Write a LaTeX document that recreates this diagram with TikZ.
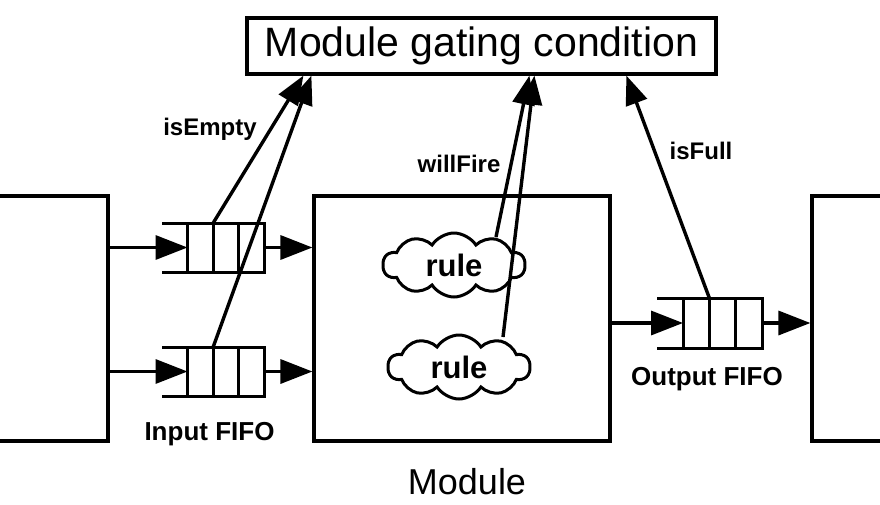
\documentclass[tikz,border=0pt]{standalone}
\usepackage{fontspec}
\setmainfont{Liberation Sans}
\usetikzlibrary{arrows.meta,shapes.symbols,calc}
\begin{document}
\begin{tikzpicture}[x=1pt,y=-1pt,
  box/.style={draw, line width=3.2pt, inner sep=0pt},
  fifo/.style={draw, line width=3pt, minimum width=77pt, minimum height=49pt, inner sep=0pt, outer sep=0pt},
  fifoline/.style={line width=3pt},
  arr/.style={line width=3.4pt, -{Triangle[length=32pt,width=24pt]}},
  sig/.style={line width=3.4pt, -{Triangle[length=29pt,width=22pt]}},
  lbl/.style={anchor=base, font=\bfseries\fontsize{24}{28}\selectfont},
  biglbl/.style={anchor=base, font=\bfseries\fontsize{26}{28}\selectfont},
  rulecloud/.style={cloud, draw, line width=3pt, cloud puffs=10, cloud puff arc=115, aspect=2.2, minimum width=142pt, minimum height=64pt, inner sep=0pt, font=\bfseries\fontsize{31}{32}\selectfont}
]
\useasboundingbox (0,0) rectangle (880,504);
\clip (0,0) rectangle (880,504);
\fill[white] (0,0) rectangle (880,504);

\node[box, minimum width=469pt, minimum height=56pt, font=\fontsize{41}{44}\selectfont] (gate) at (481.5,46) {Module gating condition};
\node[box, minimum width=200pt, minimum height=245pt] (src) at (8,318.5) {};
\node[box, minimum width=296pt, minimum height=245pt] (mod) at (462,318.5) {};
\node[box, minimum width=200pt, minimum height=245pt] (snk) at (912,318.5) {};

\node[fifo] (f1) at (226,247.5) {};
\node[fifo] (f2) at (226,371.5) {};
\node[fifo, minimum width=79pt, minimum height=50pt] (fo) at (722.5,323) {};

\foreach \f in {f1,f2,fo} {
  \draw[fifoline] (\f.north west) -- ++(-26,0) (\f.south west) -- ++(-26,0);
  \draw[fifoline] ($(\f.north west)!1/3!(\f.north east)$) -- ($(\f.south west)!1/3!(\f.south east)$)
                  ($(\f.north west)!2/3!(\f.north east)$) -- ($(\f.south west)!2/3!(\f.south east)$);
}

\draw[arr] (f1.west -| src.east) -- (f1.west);
\draw[arr] (f2.west -| src.east) -- (f2.west);
\draw[arr] (f1.east) -- (f1.east -| mod.west);
\draw[arr] (f2.east) -- (f2.east -| mod.west);
\draw[arr] (fo.west -| mod.east) -- (fo.west);
\draw[arr] (fo.east) -- (fo.east -| snk.west);

\node[rulecloud] (c1) at (454,265) {rule};
\node[rulecloud] (c2) at (459,367) {rule};

\draw[sig] ($(f1.north west)!1/3!(f1.north east)$) -- ($(gate.south west)+(58,0)$);
\draw[sig] ($(f2.north west)!1/3!(f2.north east)$) -- ($(gate.south west)+(66,0)$);
\draw[sig] ($(c1.center)+(42,-28)$) -- ($(gate.south west)+(284,0)$);
\draw[sig] ($(c2.center)+(44,-30)$) -- ($(gate.south west)+(289,0)$);
\draw[sig] ($(fo.north west)!1/3!(fo.north east)$) -- ($(gate.south west)+(381,0)$);

\node[lbl] (lE) at (210,135) {isEmpty};
\node[lbl] (lW) at (459,172) {willFire};
\node[lbl] (lF) at (701,159) {isFull};
\node[biglbl] (lI) at (209.5,440) {Input FIFO};
\node[biglbl] (lO) at (707,385) {Output FIFO};
\node[anchor=base, font=\fontsize{36}{38}\selectfont] (lM) at (467,494) {Module};
\end{tikzpicture}
\end{document}
